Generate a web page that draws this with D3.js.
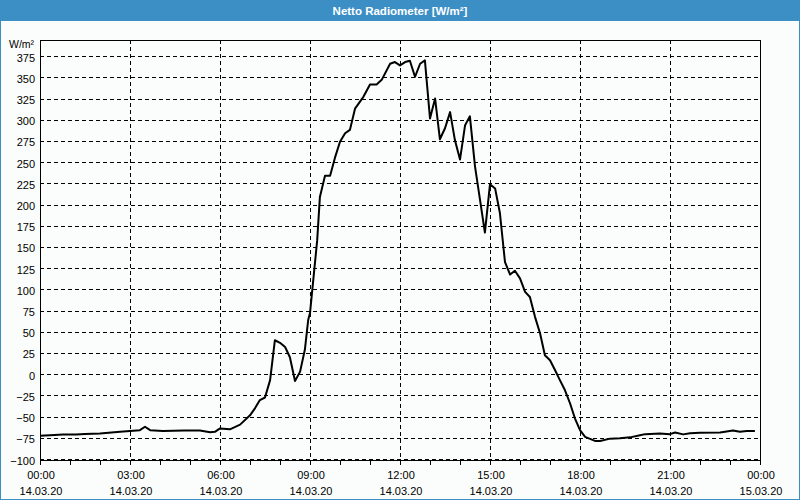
<!DOCTYPE html>
<html>
<head>
<meta charset="utf-8">
<script src="https://cdn.jsdelivr.net/npm/d3@7"></script>
<style>
  html, body { margin: 0; padding: 0; background: #fbfdfc; }
  svg { display: block; }
  text { font-family: "Liberation Sans", Arial, sans-serif; }
</style>
</head>
<body>
<svg id="chart" width="800" height="500"></svg>
<script>
const title = "Netto Radiometer [W/m²]";
const unitLabel = "W/m²";
const yTicks = [-100, -75, -50, -25, 0, 25, 50, 75, 100, 125, 150, 175, 200, 225, 250, 275, 300, 325, 350, 375];
const xTickHours = [0, 3, 6, 9, 12, 15, 18, 21, 24];
const xTickTimes = ["00:00", "03:00", "06:00", "09:00", "12:00", "15:00", "18:00", "21:00", "00:00"];
const xTickDates = ["14.03.20", "14.03.20", "14.03.20", "14.03.20", "14.03.20", "14.03.20", "14.03.20", "14.03.20", "15.03.20"];

// time of day (hours since 14.03.20 00:00) and measured values
const hours = [0.00, 0.33, 0.77, 1.20, 1.50, 2.00, 2.67, 3.00, 3.33, 3.50, 3.67, 4.10, 4.80, 5.33, 5.67, 5.83,
  6.00, 6.33, 6.67, 7.00, 7.17, 7.33, 7.50, 7.67, 7.83, 8.00, 8.17, 8.33, 8.50, 8.67, 8.83, 8.94,
  9.00, 9.24, 9.33, 9.50, 9.67, 9.83, 10.00, 10.17, 10.33, 10.50, 10.78, 11.00, 11.22, 11.39, 11.67, 11.83,
  12.00, 12.17, 12.33, 12.50, 12.67, 12.83, 13.00, 13.17, 13.33, 13.50, 13.67, 13.83, 14.00, 14.17, 14.33, 14.50,
  14.67, 14.83, 15.00, 15.17, 15.33, 15.50, 15.67, 15.83, 16.00, 16.17, 16.33, 16.50, 16.67, 16.83, 17.00, 17.17,
  17.33, 17.50, 17.67, 17.83, 18.00, 18.17, 18.50, 18.67, 19.00, 19.33, 19.67, 20.00, 20.17, 20.67, 21.00, 21.17,
  21.44, 21.67, 22.00, 22.67, 23.10, 23.33, 23.56, 23.83];
const values = [-72.5, -72, -71, -71, -70.5, -70, -68, -67, -66, -62, -66, -67, -66.5, -66.5, -68.5, -68,
  -64, -65, -59.5, -48.5, -40, -30.5, -27.5, -7, 40, 37, 32, 20, -8, 3, 29, 64,
  72, 158, 209, 234, 234, 255, 274, 284, 288, 313, 327, 341.6, 341.6, 347, 366, 368,
  364, 368, 369.5, 350.6, 366, 370, 301.5, 325, 277, 290, 309, 276, 253, 293.6, 304, 245,
  205, 167, 224, 219, 190, 132, 117.5, 122, 113, 97, 91, 67.6, 48, 22.4, 16.5, 4.7,
  -7, -19, -34.6, -52, -66, -74, -78.7, -78.7, -76, -75.5, -74.5, -72, -70.7, -70, -70.7, -68.7,
  -71, -69.6, -69, -68.7, -66.3, -68, -67, -67];

const svg = d3.select("#chart");
const W = 800, H = 500;
const blue = "#3c8fc5";
const plot = { left: 40, right: 760, top: 40, bottom: 460 };

// background and frame
svg.append("rect").attr("x", 0).attr("y", 0).attr("width", W).attr("height", H).attr("fill", "#fbfdfc");
svg.append("rect").attr("x", 0.5).attr("y", 0.5).attr("width", W - 1).attr("height", H - 1)
  .attr("fill", "none").attr("stroke", blue).attr("stroke-width", 1);
svg.append("rect").attr("x", 0).attr("y", 0).attr("width", W).attr("height", 21).attr("fill", blue);
svg.append("text").attr("x", W / 2).attr("y", 14.5).attr("text-anchor", "middle")
  .attr("fill", "#ffffff").attr("font-weight", "bold").attr("font-size", "11.5px").text(title);

const x = d3.scaleLinear().domain([0, 24]).range([plot.left, plot.right]);
const y = d3.scaleLinear().domain([-101.2, 394]).range([plot.bottom, plot.top]);

// grid
const grid = svg.append("g").attr("stroke", "#000").attr("stroke-width", 1).attr("stroke-dasharray", "4,3")
  .attr("shape-rendering", "crispEdges");
grid.selectAll("line.h").data(yTicks).join("line").attr("class", "h")
  .attr("x1", plot.left).attr("x2", plot.right)
  .attr("y1", d => Math.round(y(d)) + 0.5).attr("y2", d => Math.round(y(d)) + 0.5);
grid.selectAll("line.v").data(xTickHours.slice(1, -1)).join("line").attr("class", "v")
  .attr("y1", plot.top).attr("y2", plot.bottom)
  .attr("x1", d => Math.round(x(d)) + 0.5).attr("x2", d => Math.round(x(d)) + 0.5);

// plot border (top, left, right)
svg.append("path").attr("fill", "none").attr("stroke", "#000").attr("shape-rendering", "crispEdges")
  .attr("d", `M${plot.left + 0.5},${plot.bottom}V${plot.top + 0.5}H${plot.right + 0.5}V${plot.bottom}`);

// y axis labels
const yAxis = d3.axisLeft(y).tickValues(yTicks).tickSize(0).tickPadding(5);
const gy = svg.append("g").attr("transform", `translate(${plot.left},1.5)`).call(yAxis);
gy.select(".domain").remove();
gy.selectAll("text").attr("font-size", "11px").attr("font-family", "Liberation Sans, Arial, sans-serif").attr("fill", "#000");
svg.append("text").attr("x", 9).attr("y", 48).attr("font-size", "10.5px").attr("fill", "#000").text(unitLabel);

// x axis
const xAxis = d3.axisBottom(x).tickValues(d3.range(0, 25, 1)).tickSize(4).tickFormat("");
const gx = svg.append("g").attr("transform", `translate(0,${plot.bottom + 0.5})`).call(xAxis)
  .attr("shape-rendering", "crispEdges");
gx.select(".domain").attr("d", `M${plot.left},0H${plot.right + 1}`).attr("stroke", "#000");
gx.selectAll(".tick line").attr("stroke", "#000");
const lab = svg.append("g").attr("font-size", "11px").attr("fill", "#000").attr("text-anchor", "middle");
lab.selectAll("text.t").data(xTickHours).join("text").attr("class", "t")
  .attr("x", d => x(d) + 1).attr("y", 479).text((d, i) => xTickTimes[i]);
lab.selectAll("text.d").data(xTickHours).join("text").attr("class", "d")
  .attr("x", d => x(d) + 1).attr("y", 494.5).text((d, i) => xTickDates[i]);

// series line
const pts = hours.map((h, i) => [h, values[i]]);
svg.append("path").datum(pts).attr("fill", "none").attr("stroke", "#000").attr("stroke-width", 2)
  .attr("stroke-linejoin", "round")
  .attr("d", d3.line().x(d => x(d[0])).y(d => y(d[1])));
</script>
</body>
</html>
